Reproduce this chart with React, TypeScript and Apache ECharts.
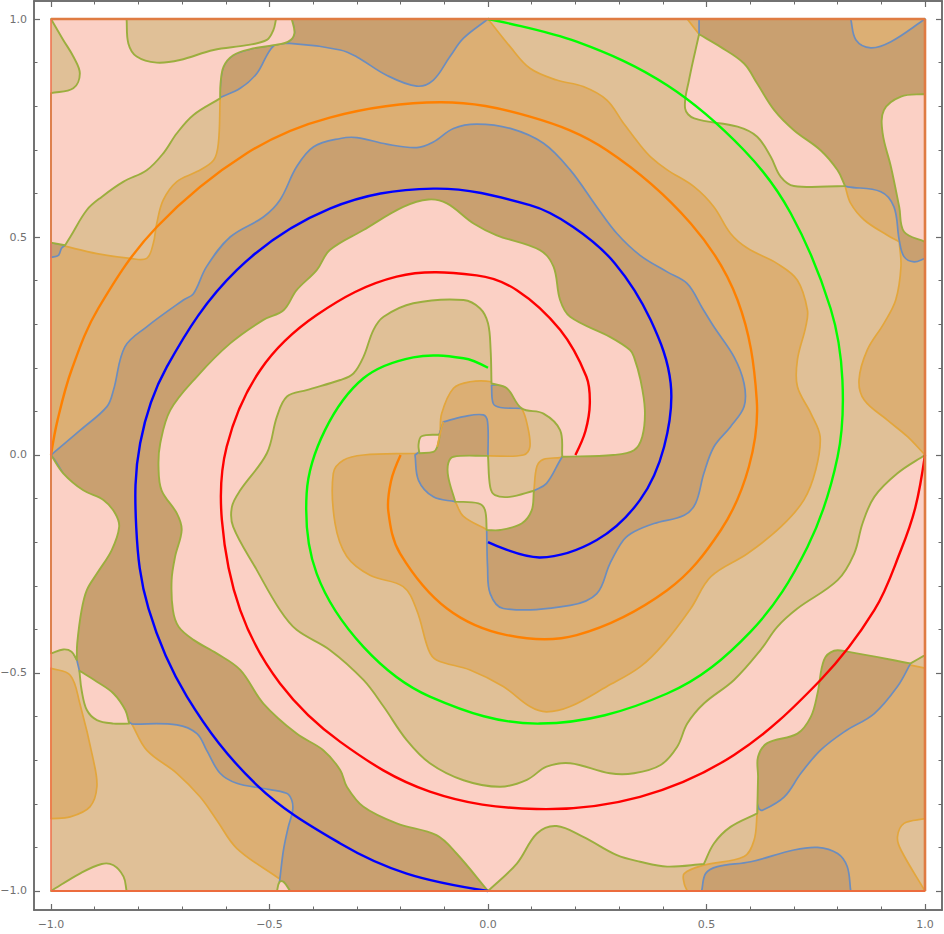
import React, { useEffect, useRef } from "react";
import * as echarts from "echarts";

type P = number[];

const majorTicks = [-1, -0.5, 0, 0.5, 1];
const minorTicks = [-1, -0.9, -0.8, -0.7, -0.6, -0.5, -0.4, -0.3, -0.2, -0.1, 0, 0.1, 0.2, 0.3, 0.4, 0.5, 0.6, 0.7, 0.8, 0.9, 1];

// Spiral curves [x, y]
const redSpiral: P[] = [[0.2,0],[0.223,0.055],[0.233,0.119],[0.225,0.18],[0.165,0.287],[0.066,0.378],[-0.026,0.412],[-0.209,0.409],[-0.392,0.321],[-0.521,0.195],[-0.598,0.019],[-0.609,-0.149],[-0.567,-0.356],[-0.476,-0.524],[-0.338,-0.658],[-0.133,-0.772],[0.111,-0.812],[0.348,-0.784],[0.563,-0.688],[0.761,-0.516],[0.884,-0.356],[0.945,-0.218],[0.978,-0.12],[1,0]];
const greenSpiral: P[] = [[0,1],[0.203,0.948],[0.41,0.848],[0.586,0.699],[0.693,0.554],[0.784,0.336],[0.811,0.172],[0.8,-0.004],[0.731,-0.211],[0.601,-0.405],[0.41,-0.547],[0.119,-0.616],[-0.133,-0.554],[-0.285,-0.44],[-0.392,-0.272],[-0.415,-0.088],[-0.373,0.057],[-0.285,0.176],[-0.171,0.224],[-0.056,0.222],[0,0.2]];
const blueSpiral: P[] = [[0,-0.2],[0.119,-0.235],[0.249,-0.195],[0.348,-0.103],[0.403,0.019],[0.418,0.164],[0.372,0.31],[0.29,0.44],[0.195,0.523],[0.096,0.573],[-0.125,0.611],[-0.362,0.565],[-0.575,0.424],[-0.735,0.202],[-0.796,0.027],[-0.805,-0.165],[-0.777,-0.352],[-0.689,-0.554],[-0.529,-0.757],[-0.338,-0.891],[-0.186,-0.96],[0,-1]];
const orangeSpiral: P[] = [[-0.2,0],[-0.222,-0.06],[-0.228,-0.13],[-0.201,-0.226],[-0.094,-0.352],[0.043,-0.413],[0.203,-0.413],[0.41,-0.31],[0.533,-0.172],[0.597,-0.027],[0.615,0.126],[0.571,0.3555],[0.464,0.531],[0.272,0.699],[0.096,0.776],[-0.11,0.809],[-0.362,0.774],[-0.552,0.692],[-0.758,0.523],[-0.892,0.336],[-0.953,0.195],[-0.985,0.08],[-1,0]];

// Frame sides
const frameTop: P[] = [[-1,1],[1,1]];
const frameRight: P[] = [[1,1],[1,-1]];
const frameBottom: P[] = [[-1,-1],[1,-1]];
const frameLeft: P[] = [[-1,1],[-1,-1]];
const orangeCentreEdge: P[] = [[-0.116,0.019],[-0.11,0.047],[-0.102,0.076]];

// Region outlines [x, y] or [x, y, 1] for a sharp corner
const tanSquare: P[] = [[-1,1],[1,1],[1,-1],[-1,-1]];

const orangeMain: P[] = [[-1,0.487,1],[-0.968,0.479],[-0.895,0.462],[-0.819,0.451],[-0.781,0.451],[-0.766,0.485],[-0.758,0.531],[-0.743,0.585],[-0.712,0.627],[-0.666,0.65],[-0.628,0.676],[-0.617,0.715],[-0.613,0.814,1],[-0.612,0.852],[-0.605,0.891],[-0.583,0.917],[-0.544,0.931],[-0.491,0.94],[-0.457,0.948],[-0.443,0.967],[-0.449,1,1],[0,1,1],[0.051,0.936],[0.096,0.887],[0.157,0.86],[0.218,0.845],[0.272,0.814],[0.31,0.761],[0.348,0.711],[0.372,0.684],[0.41,0.654],[0.472,0.615],[0.517,0.569],[0.555,0.508],[0.594,0.474],[0.662,0.439],[0.708,0.401],[0.731,0.332],[0.727,0.294],[0.708,0.218],[0.708,0.157],[0.739,0.095],[0.76,0.042],[0.75,-0.034],[0.723,-0.103],[0.67,-0.165],[0.594,-0.226],[0.51,-0.279],[0.464,-0.352],[0.403,-0.432],[0.348,-0.486],[0.272,-0.531],[0.188,-0.577],[0.134,-0.589],[0.096,-0.577],[0.035,-0.531],[-0.041,-0.493],[-0.118,-0.47],[-0.136,-0.447],[-0.163,-0.356],[-0.194,-0.302],[-0.27,-0.276],[-0.323,-0.233],[-0.35,-0.157],[-0.354,-0.042],[-0.331,-0.012],[-0.285,0],[-0.159,0.004],[-0.125,0.007],[-0.116,0.019],[-0.11,0.047],[-0.106,0.095],[-0.079,0.153],[-0.041,0.168],[0.008,0.168],[0.043,0.153],[0.077,0.107],[0.089,0.073],[0.096,0.019],[0.081,0],[0,-0.002,1],[-0.079,-0.004],[-0.091,-0.05],[-0.075,-0.107,1],[-0.056,-0.141],[-0.003,-0.171,1],[0.077,-0.15],[0.105,-0.082,1],[0.112,-0.026],[0.127,-0.01],[0.165,-0.006],[0.17,-0.004,1],[0.249,-0.019],[0.403,0.019],[0.418,0.095],[0.418,0.164],[0.403,0.248],[0.372,0.31],[0.295,0.447],[0.195,0.523],[0.096,0.573],[-0.018,0.604],[-0.125,0.611],[-0.224,0.604],[-0.362,0.565],[-0.514,0.478],[-0.621,0.378],[-0.689,0.294],[-0.773,0.103],[-0.805,-0.073],[-1,0,1]];
const orangeLowerLeft: P[] = [[-1,-0.489,1],[-0.956,-0.505],[-0.934,-0.57],[-0.903,-0.7],[-0.895,-0.761],[-0.911,-0.807],[-0.956,-0.83],[-1,-0.834,1]];
const orangeStrip: P[] = [[-0.815,-0.617,1],[-0.781,-0.677],[-0.712,-0.73],[-0.659,-0.784],[-0.621,-0.837],[-0.575,-0.902],[-0.479,-0.971,1],[-0.422,-0.891],[-0.438,-0.738],[-0.666,-0.585]];
const orangeUpperRight: P[] = [[0.456,1,1],[1,1,1],[1,0,1],[0.96,0.042],[0.914,0.08],[0.861,0.126],[0.849,0.172],[0.868,0.241],[0.906,0.302],[0.933,0.3555],[0.945,0.432],[0.941,0.489,1],[0.914,0.504],[0.861,0.539],[0.83,0.577],[0.817,0.617,1],[0.693,0.68],[0.601,0.8],[0.483,0.965,1]];
const orangeLowerRight: P[] = [[0.616,-0.822,1],[0.609,-0.883],[0.586,-0.921],[0.494,-0.941],[0.449,-0.96],[0.449,-0.983],[0.456,-1,1],[1,-1,1],[0.945,-0.906],[0.937,-0.876],[0.952,-0.845],[1,-0.834,1],[1,-0.489,1],[0.967,-0.482,1],[0.792,-0.547],[0.639,-0.784],[0.62,-0.807]];

const brownSpiral: P[] = [[-1,0,1],[-0.933,0.057],[-0.872,0.111],[-0.857,0.149],[-0.831,0.248],[-0.781,0.294],[-0.697,0.3555],[-0.674,0.37],[-0.644,0.432],[-0.59,0.5],[-0.514,0.546],[-0.476,0.585],[-0.438,0.661],[-0.399,0.707],[-0.338,0.726],[-0.3,0.728],[-0.232,0.713],[-0.163,0.705],[-0.125,0.718],[-0.079,0.749],[-0.026,0.759],[0.051,0.749],[0.127,0.715],[0.188,0.654],[0.249,0.569],[0.295,0.508],[0.348,0.458],[0.41,0.42],[0.456,0.393],[0.491,0.336],[0.517,0.294],[0.563,0.225],[0.586,0.164],[0.586,0.111],[0.555,0.065],[0.517,0.019],[0.494,-0.042],[0.475,-0.111],[0.449,-0.138],[0.38,-0.157],[0.334,-0.176],[0.31,-0.195],[0.279,-0.249],[0.249,-0.318],[0.188,-0.345],[0.035,-0.352],[0.005,-0.318],[-0.001,-0.256],[-0.003,-0.172,1],[0.077,-0.15],[0.105,-0.082,1],[0.134,-0.065],[0.165,-0.012],[0.17,-0.004,1],[0.188,0.011],[0.229,0.073],[0.233,0.119],[0.204,0.234],[0.126,0.326],[-0.026,0.412],[-0.125,0.418],[-0.285,0.382],[-0.46,0.264],[-0.575,0.095],[-0.609,-0.073],[-0.598,-0.241],[-0.529,-0.432],[-0.399,-0.608],[-0.285,-0.696],[-0.133,-0.772],[0,-1,1],[-0.453,-1,1],[-0.468,-0.979],[-0.477,-0.979,1],[-0.468,-0.906],[-0.457,-0.853],[-0.447,-0.815],[-0.449,-0.792],[-0.461,-0.776],[-0.514,-0.765],[-0.575,-0.753],[-0.613,-0.73],[-0.644,-0.677],[-0.666,-0.639],[-0.712,-0.619],[-0.815,-0.617,1],[-0.872,-0.577],[-0.918,-0.547],[-0.935,-0.495,1],[-0.941,-0.47,1],[-0.956,-0.432],[-0.941,-0.333],[-0.903,-0.226],[-0.872,-0.149],[-0.941,-0.088],[-0.991,-0.012]];
const brownTop: P[] = [[-0.613,0.82,1],[-0.567,0.841],[-0.529,0.875],[-0.491,0.938],[-0.453,0.944],[-0.338,0.929],[-0.3,0.913],[-0.232,0.871],[-0.163,0.846],[-0.125,0.86],[-0.087,0.914],[-0.056,0.956],[0,1,1],[-0.449,1,1],[-0.443,0.967],[-0.457,0.948],[-0.491,0.94],[-0.544,0.931],[-0.583,0.917],[-0.605,0.891],[-0.612,0.852]];
const brownLeftWedge: P[] = [[-1,0.487,1],[-0.968,0.481,1],[-0.976,0.474],[-0.983,0.458],[-1,0.453,1]];
const brownUpperRight: P[] = [[0.483,1,1],[0.83,1,1],[0.842,0.952],[0.876,0.934],[0.922,0.948],[1,1,1],[1,0.451,1],[0.975,0.443],[0.952,0.455],[0.941,0.493],[0.929,0.569],[0.899,0.604],[0.823,0.615],[0.817,0.617,1],[0.693,0.68],[0.601,0.8],[0.483,0.965,1]];
const brownLowerRight: P[] = [[0.62,-0.812,1],[0.6,-0.74],[0.6,-0.65],[0.7,-0.6],[0.73,-0.55],[0.75,-0.44],[0.82,-0.42],[0.95,-0.46],[0.967,-0.478,1],[0.937,-0.531],[0.884,-0.593],[0.815,-0.635],[0.761,-0.677],[0.716,-0.73],[0.678,-0.784],[0.628,-0.815]];
const brownBar: P[] = [[0.489,-1,1],[0.498,-0.96],[0.525,-0.944],[0.601,-0.933],[0.7,-0.906],[0.754,-0.9],[0.8,-0.914],[0.822,-0.944],[0.83,-1,1]];
const brownCentreTop: P[] = [[0.008,0.16,1],[0.012,0.118],[0.028,0.109],[0.077,0.107,1],[0.073,0.164,1]];
const brownCentre: P[] = [[-0.102,0.076,1],[-0.056,0.088],[-0.011,0.092],[-0.001,0.076],[0,-0.002,1],[-0.04,-0.05],[-0.075,-0.107,1],[-0.125,-0.096],[-0.159,-0.058],[-0.167,0,1],[-0.14,0.02],[-0.118,0.035]];

const pinkTopLeft: P[] = [[-1,1,1],[-0.827,1,1],[-0.823,0.944],[-0.804,0.914],[-0.758,0.9],[-0.705,0.906],[-0.628,0.929],[-0.552,0.94],[-0.506,0.952],[-0.491,0.975],[-0.485,1,1],[-0.449,1,1],[-0.443,0.967],[-0.457,0.948],[-0.491,0.94],[-0.544,0.931],[-0.583,0.917],[-0.605,0.891],[-0.612,0.852],[-0.613,0.818,1],[-0.674,0.78],[-0.712,0.738],[-0.743,0.692],[-0.781,0.653],[-0.834,0.627],[-0.884,0.592],[-0.918,0.562],[-0.956,0.5],[-0.968,0.481,1],[-1,0.487,1],[-1,0.83,1],[-0.949,0.841],[-0.934,0.875],[-0.949,0.914],[-0.972,0.952]];
const pinkLeft: P[] = [[-1,0,1],[-0.972,-0.042],[-0.926,-0.081],[-0.88,-0.103],[-0.853,-0.134],[-0.844,-0.165],[-0.861,-0.218],[-0.895,-0.272],[-0.918,-0.31],[-0.93,-0.356],[-0.94,-0.432],[-0.941,-0.47,1],[-0.953,-0.451],[-0.972,-0.446],[-1,-0.455,1]];
const pinkLens: P[] = [[-0.935,-0.495,1],[-0.895,-0.52],[-0.857,-0.547],[-0.83,-0.585],[-0.821,-0.616,1],[-0.857,-0.616],[-0.895,-0.608],[-0.918,-0.585],[-0.93,-0.539]];
const pinkCornerBL: P[] = [[-1,-1,1],[-0.934,-0.96],[-0.884,-0.938],[-0.857,-0.941],[-0.834,-0.967],[-0.827,-1,1]];
const pinkTiny: P[] = [[-0.483,-1,1],[-0.477,-0.979],[-0.468,-0.979],[-0.453,-1,1]];
const pinkSpiral: P[] = [[-0.136,0.586],[-0.194,0.569],[-0.285,0.516],[-0.362,0.47],[-0.392,0.424],[-0.438,0.378],[-0.468,0.332],[-0.514,0.31],[-0.59,0.256],[-0.666,0.18],[-0.727,0.103],[-0.75,0.027],[-0.754,-0.027],[-0.747,-0.081],[-0.712,-0.134],[-0.701,-0.172],[-0.716,-0.233],[-0.724,-0.287],[-0.721,-0.356],[-0.708,-0.394],[-0.674,-0.424],[-0.621,-0.455],[-0.567,-0.493],[-0.514,-0.57],[-0.438,-0.639],[-0.377,-0.677],[-0.338,-0.723],[-0.323,-0.761],[-0.285,-0.807],[-0.209,-0.845],[-0.118,-0.872],[-0.072,-0.914],[0,-1,1],[0.066,-0.937],[0.112,-0.868],[0.157,-0.851],[0.218,-0.876],[0.295,-0.918],[0.348,-0.933],[0.41,-0.944],[0.494,-0.938,1],[0.517,-0.891],[0.555,-0.853],[0.616,-0.822,1],[0.618,-0.738],[0.618,-0.692],[0.639,-0.661],[0.708,-0.639],[0.739,-0.6],[0.754,-0.547],[0.769,-0.47],[0.792,-0.449],[0.822,-0.451],[0.967,-0.478,1],[1,-0.459,1],[1,0,1],[0.937,-0.042],[0.884,-0.096],[0.857,-0.157],[0.838,-0.226],[0.8,-0.287],[0.708,-0.352],[0.662,-0.394],[0.624,-0.447],[0.563,-0.516],[0.494,-0.57],[0.456,-0.616],[0.433,-0.669],[0.395,-0.711],[0.334,-0.73],[0.279,-0.73],[0.188,-0.707],[0.134,-0.715],[0.089,-0.745],[0.028,-0.761],[-0.056,-0.746],[-0.133,-0.707],[-0.186,-0.654],[-0.239,-0.577],[-0.285,-0.516],[-0.362,-0.447],[-0.438,-0.401],[-0.476,-0.3555],[-0.529,-0.264],[-0.583,-0.165],[-0.586,-0.119],[-0.567,-0.081],[-0.506,0.004],[-0.483,0.088],[-0.46,0.134],[-0.415,0.149],[-0.338,0.172],[-0.308,0.187],[-0.285,0.225],[-0.262,0.287],[-0.239,0.317],[-0.171,0.348],[-0.056,0.3555],[-0.018,0.336],[0,0.302],[0.006,0.241],[0.008,0.164,1],[0.043,0.153],[0.077,0.107],[0.127,0.095],[0.165,0.057],[0.17,-0.004,1],[0.287,0],[0.334,0.011],[0.353,0.042],[0.359,0.103],[0.349,0.172],[0.334,0.225],[0.325,0.241],[0.279,0.271],[0.188,0.317],[0.165,0.3555],[0.15,0.432],[0.119,0.47],[0.02,0.504],[-0.033,0.531],[-0.094,0.577]];
const pinkCentre: P[] = [[-0.091,-0.019],[-0.079,-0.004],[0,-0.002,1],[0.005,-0.073],[0.016,-0.092],[0.05,-0.096],[0.105,-0.082,1],[0.1,-0.127],[0.077,-0.157],[0.028,-0.172],[-0.003,-0.172,1],[-0.007,-0.126],[-0.022,-0.111],[-0.075,-0.107,1],[-0.091,-0.05]];
const pinkSmall: P[] = [[-0.159,0.023],[-0.152,0.043],[-0.11,0.047,1],[-0.116,0.019],[-0.125,0.007],[-0.157,0.004,1]];
const pinkBanana: P[] = [[0.483,0.965,1],[0.532,0.936],[0.586,0.898],[0.616,0.852],[0.655,0.791],[0.7,0.745],[0.761,0.699],[0.8,0.653],[0.817,0.617,1],[0.7,0.617],[0.67,0.638],[0.647,0.684],[0.616,0.73],[0.571,0.753],[0.472,0.772],[0.451,0.795],[0.46,0.86]];
const pinkRight: P[] = [[1,0.828,1],[0.945,0.822],[0.906,0.791],[0.903,0.738],[0.922,0.661],[0.941,0.569],[0.952,0.512],[1,0.489,1]];

const tanFill = "#E0C097";
const orangeFill = "#DCAF74";
const brownFill = "#C9A070";
const pinkFill = "#FBD0C5";
const greenEdge = "#9BAE3E";
const orangeEdge = "#E3A63C";
const blueEdge = "#6C8DBE";

const SMOOTH = 0.36;

function regionSeries(polys: P[][], fill: string, stroke: string, width: number, smooth: number) {
  return {
    type: "custom",
    coordinateSystem: "cartesian2d",
    xAxisIndex: 0,
    yAxisIndex: 0,
    silent: true,
    clip: false,
    data: polys.map((_, i) => [i]),
    renderItem: (params: any, api: any) => {
      const pts: number[][] = [];
      polys[params.dataIndex].forEach((p) => {
        const c = api.coord([p[0], p[1]]);
        pts.push(c);
        if (p[2]) pts.push(c.slice());
      });
      return {
        type: "polygon",
        shape: { points: pts, smooth },
        style: { fill, stroke, lineWidth: width, lineJoin: "round" },
      };
    },
  };
}

function spiral(data: P[], color: string, width: number) {
  return {
    type: "custom",
    coordinateSystem: "cartesian2d",
    xAxisIndex: 0,
    yAxisIndex: 0,
    silent: true,
    clip: false,
    data: [[0]],
    renderItem: (_p: any, api: any) => ({
      type: "polyline",
      shape: { points: data.map((p) => api.coord(p)), smooth: 0.36 },
      style: { fill: "none", stroke: color, lineWidth: width, lineCap: "butt" },
    }),
  };
}

function curve(data: P[], color: string, width: number, smooth: boolean | number) {
  return {
    type: "line",
    xAxisIndex: 0,
    yAxisIndex: 0,
    data,
    smooth,
    showSymbol: false,
    symbol: "none",
    silent: true,
    clip: false,
    lineStyle: { color, width, cap: "butt" },
  };
}

const axisGray = "#6A6A6A";
const labelGray = "#707070";
const fmt = (v: number) => v.toFixed(1).replace("-", "\u2212");

function baseAxis(extra: any, min: number, max: number) {
  return {
    type: "value",
    min,
    max,
    splitLine: { show: false },
    axisLine: { show: true, onZero: false, lineStyle: { color: axisGray, width: 1.5 } },
    ...extra,
  };
}

function axisSet(pos: [string, string], min: number, max: number, margin: number) {
  return [
    baseAxis({
      position: pos[0],
      axisTick: { show: true, inside: true, length: 6, customValues: majorTicks, lineStyle: { color: axisGray, width: 1.2 } },
      axisLabel: { show: true, customValues: majorTicks, formatter: fmt, color: labelGray, fontSize: 11, fontFamily: "DejaVu Sans", margin },
    }, min, max),
    baseAxis({
      position: pos[1],
      axisTick: { show: true, inside: true, length: 6, customValues: majorTicks, lineStyle: { color: axisGray, width: 1.2 } },
      axisLabel: { show: false },
    }, min, max),
    baseAxis({
      position: pos[0],
      axisTick: { show: true, inside: true, length: 3.5, customValues: minorTicks, lineStyle: { color: axisGray, width: 1 } },
      axisLabel: { show: false },
    }, min, max),
    baseAxis({
      position: pos[1],
      axisTick: { show: true, inside: true, length: 3.5, customValues: minorTicks, lineStyle: { color: axisGray, width: 1 } },
      axisLabel: { show: false },
    }, min, max),
  ];
}

export default function App() {
  const ref = useRef<HTMLDivElement>(null);
  useEffect(() => {
    const chart = echarts.init(ref.current!, null, { renderer: "svg" });
    chart.setOption({
      animation: false,
      backgroundColor: "#ffffff",
      grid: { left: 34, right: 2, top: 1, bottom: 24, outerBoundsMode: "none" },
      xAxis: axisSet(["bottom", "top"], -1.0389, 1.0389, 9),
      yAxis: axisSet(["left", "right"], -1.0436, 1.0413, 7),
      series: [
        regionSeries([tanSquare], tanFill, "none", 0, 0),
        regionSeries([orangeMain, orangeLowerLeft, orangeStrip, orangeUpperRight, orangeLowerRight], orangeFill, orangeEdge, 1.7, SMOOTH),
        regionSeries([brownSpiral, brownTop, brownLeftWedge, brownUpperRight, brownLowerRight, brownBar, brownCentreTop, brownCentre], brownFill, blueEdge, 1.7, SMOOTH),
        curve(orangeCentreEdge, orangeEdge, 1.7, 0.34),
        regionSeries([pinkTopLeft, pinkLeft, pinkLens, pinkCornerBL, pinkTiny, pinkSpiral, pinkCentre, pinkSmall, pinkBanana, pinkRight], pinkFill, greenEdge, 1.9, SMOOTH),
        curve(frameTop, "#DF7B42", 2.6, false),
        curve(frameRight, "#DF7B42", 2.6, false),
        curve(frameBottom, "#EC6C3E", 2.2, false),
        curve(frameLeft, "#EE7550", 1.6, false),
        spiral(redSpiral, "#FF0000", 2.4),
        spiral(greenSpiral, "#00FF00", 2.4),
        spiral(blueSpiral, "#0000FF", 2.4),
        spiral(orangeSpiral, "#FF8000", 2.4),
      ],
    });
    return () => chart.dispose();
  }, []);
  return <div ref={ref} style={{ position: "absolute", left: 0, top: 0, width: 944, height: 934 }} />;
}
